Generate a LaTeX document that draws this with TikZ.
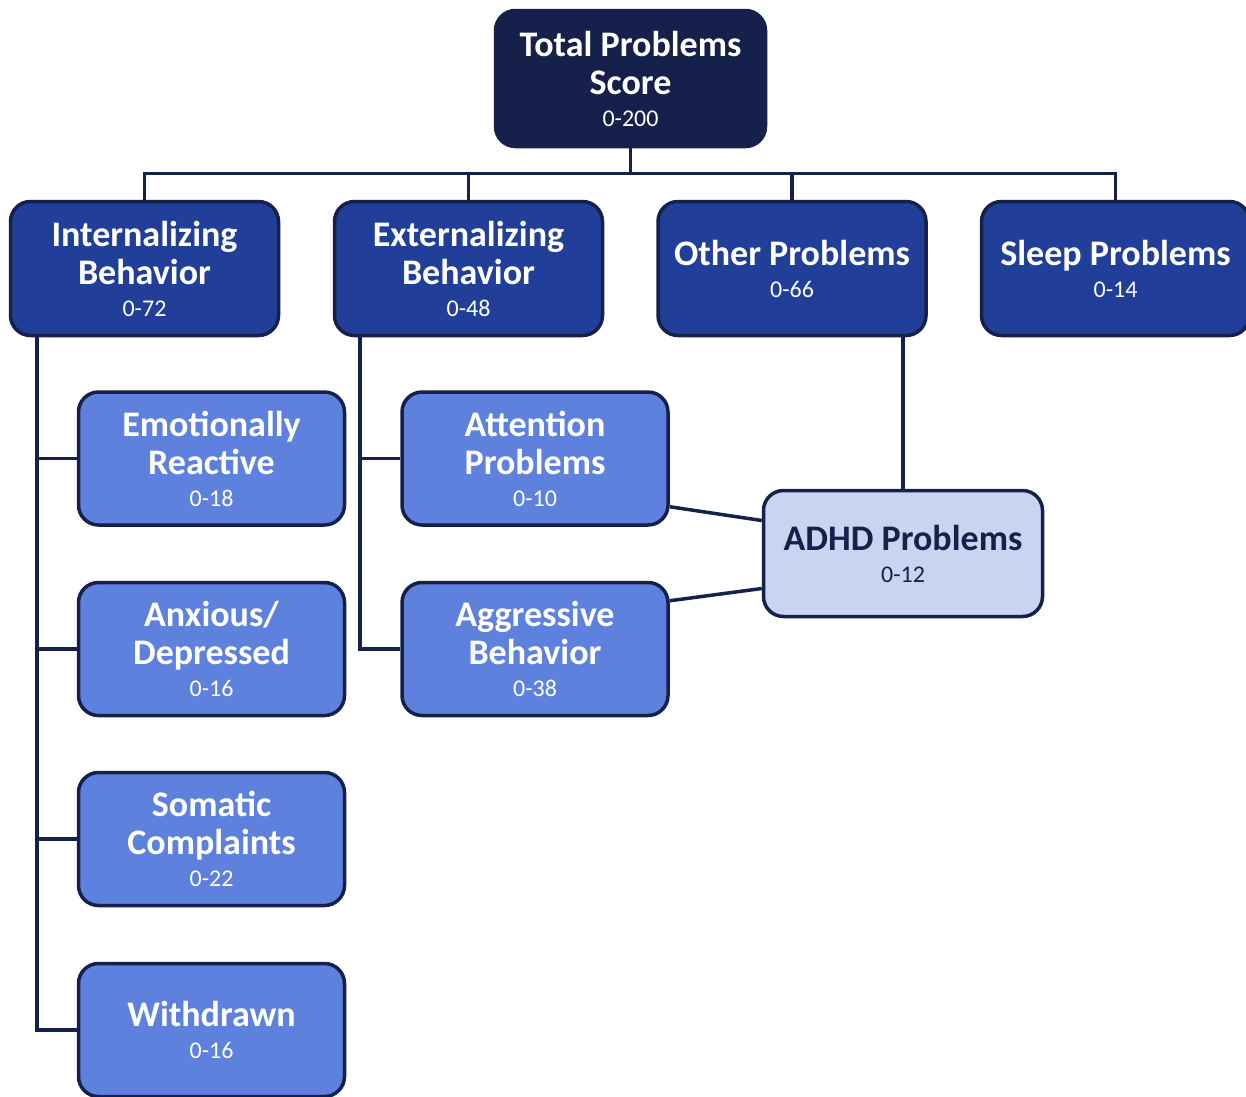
\documentclass[tikz,border=0pt]{standalone}
\usepackage{fontspec}
\setmainfont{Carlito}
\usetikzlibrary{positioning}

\definecolor{navy}{HTML}{15204B}
\definecolor{midblue}{HTML}{213F98}
\definecolor{lightblue}{HTML}{5E81DE}
\definecolor{paleblue}{HTML}{C9D4F1}

% score range under a box title
\newcommand{\rng}[1]{{\fontsize{24}{28}\selectfont\mdseries #1}}

\begin{document}
\begin{tikzpicture}[x=1pt,y=-1pt,
  box/.style={draw=navy, line width=3.5pt, rounded corners=20pt, inner sep=0pt,
    minimum width=268pt, minimum height=134pt, align=center, text=white,
    font=\fontsize{36}{38}\selectfont\bfseries},
  topbox/.style={box, fill=navy, minimum width=270pt, minimum height=136pt},
  mainbox/.style={box, fill=midblue},
  subbox/.style={box, fill=lightblue, minimum width=266pt, minimum height=133pt},
  adhdbox/.style={box, fill=paleblue, text=navy, minimum width=279pt, minimum height=126pt},
  link/.style={draw=navy, line width=3.5pt}]

  \useasboundingbox (0,0) rectangle (1246,1096);
  \clip (0,0) rectangle (1246,1096);

  % Top
  \node[topbox] (total) at (630.5,78.5) {Total Problems\\Score\\[-6pt]\rng{0-200}};

  % Broad scales
  \node[mainbox] (int) at (144.5,268.5) {Internalizing\\Behavior\\[-6pt]\rng{0-72}};
  \node[mainbox] (ext) at (468.5,268.5) {Externalizing\\Behavior\\[-6pt]\rng{0-48}};
  \node[mainbox] (oth) at (792,268.5) {Other Problems\\[-6pt]\rng{0-66}};
  \node[mainbox] (slp) at (1115.5,268.5) {Sleep Problems\\[-6pt]\rng{0-14}};

  % Syndrome scales
  \node[subbox] (emo) at (211.5,458.5) {Emotionally\\Reactive\\[-6pt]\rng{0-18}};
  \node[subbox] (anx) at (211.5,649) {Anxious/\\Depressed\\[-6pt]\rng{0-16}};
  \node[subbox] (som) at (211.5,839) {Somatic\\Complaints\\[-6pt]\rng{0-22}};
  \node[subbox] (wdr) at (211.5,1030) {Withdrawn\\[-6pt]\rng{0-16}};
  \node[subbox] (att) at (535,458.5) {Attention\\Problems\\[-6pt]\rng{0-10}};
  \node[subbox] (agg) at (535,649) {Aggressive\\Behavior\\[-6pt]\rng{0-38}};

  \node[adhdbox] (adhd) at (903,553.5) {ADHD Problems\\[-6pt]\rng{0-12}};

  % Bus from top
  \draw[link] (total.south) -- ++(0,25) coordinate (bus);
  \draw[link] (int.north) -- (int.north |- bus) -| (slp.north);
  \foreach \n in {ext,oth}
    {\draw[link] (\n.north) -- (\n.north |- bus);}

  % Trunks down the left sides
  \coordinate (itrunk) at ([xshift=28pt]int.south west);
  \coordinate (etrunk) at ([xshift=27pt]ext.south west);
  \draw[link] (itrunk) |- (wdr.west);
  \foreach \n in {emo,anx,som}
    {\draw[link] (\n.west) -- (\n.west -| itrunk);}
  \draw[link] (etrunk) |- (agg.west);
  \draw[link] (att.west) -- (att.west -| etrunk);

  % ADHD links
  \draw[link] (adhd.north) -- (adhd.north |- oth.south);
  \draw[link] ([yshift=20pt]att.south east) -- ([yshift=33pt]adhd.west);
  \draw[link] ([yshift=-20pt]agg.north east) -- ([yshift=-35pt]adhd.west);
\end{tikzpicture}
\end{document}
